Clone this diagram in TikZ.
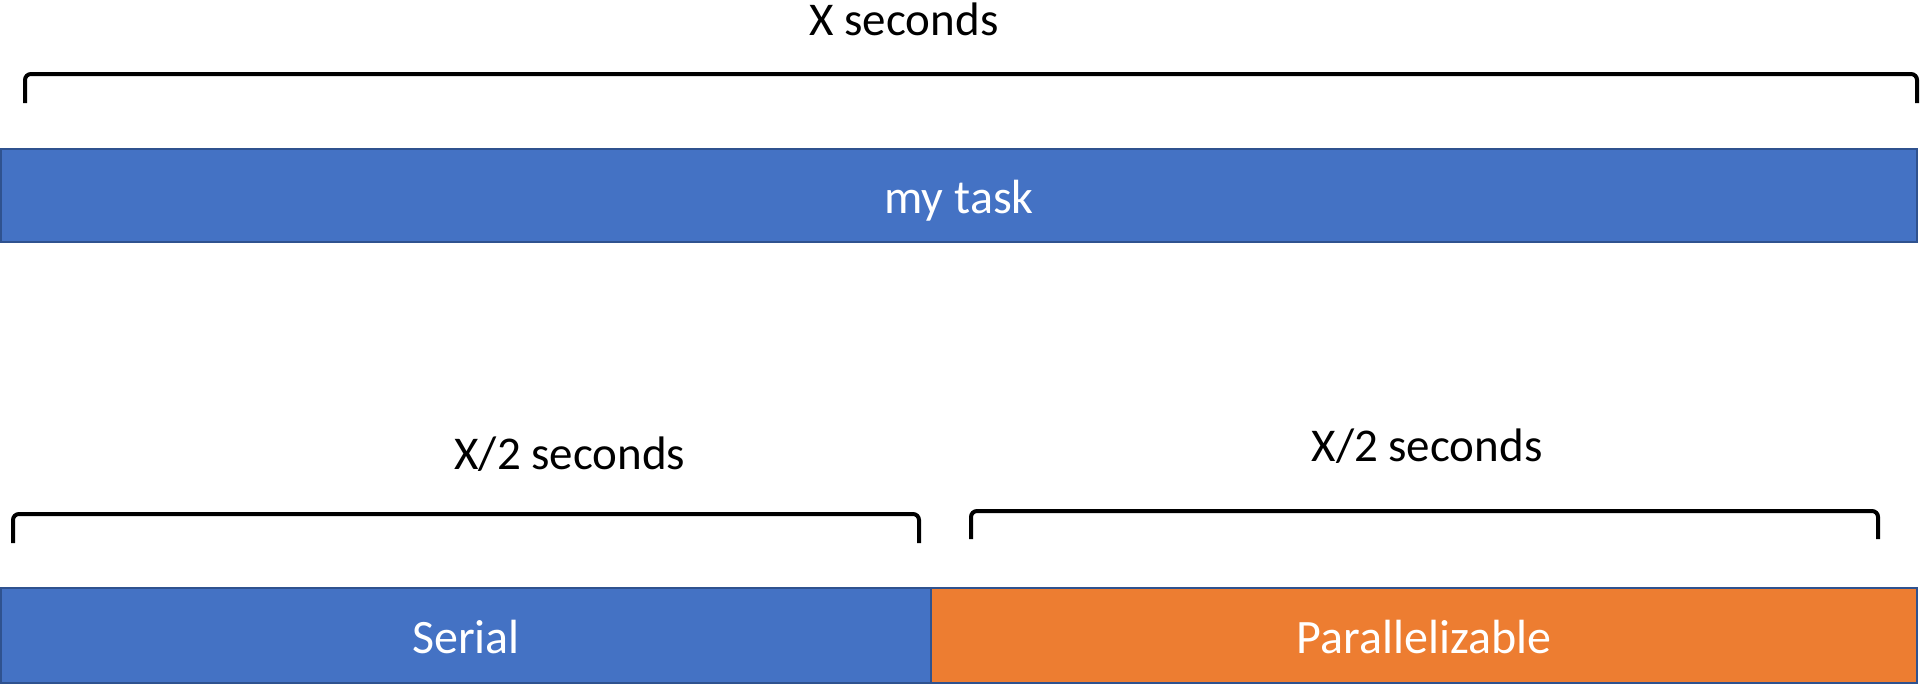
\documentclass[tikz,border=0pt]{standalone}
\usepackage{fontspec}
\setmainfont{Carlito}
\definecolor{barblue}{HTML}{4472C4}
\definecolor{barorange}{HTML}{ED7D31}
\definecolor{edgeblue}{HTML}{2F528F}
\begin{document}
\begin{tikzpicture}[x=1pt,y=-1pt,
  bar/.style={draw=edgeblue, line width=2pt, inner sep=0pt, outer sep=0pt,
    text=white, text height=36pt, text depth=0pt,
    font=\fontsize{48}{58}\selectfont},
  brace/.style={draw=black, line width=4pt, rounded corners=6pt},
  label/.style={font=\fontsize{47}{56}\selectfont, inner sep=0pt}]
\useasboundingbox (0,0) rectangle (1921,685);
% timeline bars
\node[bar, fill=barblue, minimum width=1916pt, minimum height=93pt] (task) at (959,195) {my task};
\node[bar, fill=barblue, minimum width=930pt, minimum height=95pt, anchor=north west] (serial) at (1,588) {Serial};
\node[bar, fill=barorange, minimum width=986pt, minimum height=95pt, anchor=north west] (par) at (931,588) {Parallelizable};
% bracket end points
\coordinate (t1) at (25,103);
\coordinate (t2) at (1917,103);
\coordinate (s1) at (13,543);
\coordinate (s2) at (919,543);
\coordinate (p1) at (971,539);
\coordinate (p2) at (1878,539);
% brackets
\draw[brace] (t1) -- ++(0,-29) -| (t2);
\draw[brace] (s1) -- ++(0,-29) -| (s2);
\draw[brace] (p1) -- ++(0,-28) -| (p2);
% durations
\node[label] (lt) at (904,19) {X seconds};
\node[label] (ls) at (570,454) {X/2 seconds};
\node[label] (lp) at (1427,446) {X/2 seconds};
\end{tikzpicture}
\end{document}
